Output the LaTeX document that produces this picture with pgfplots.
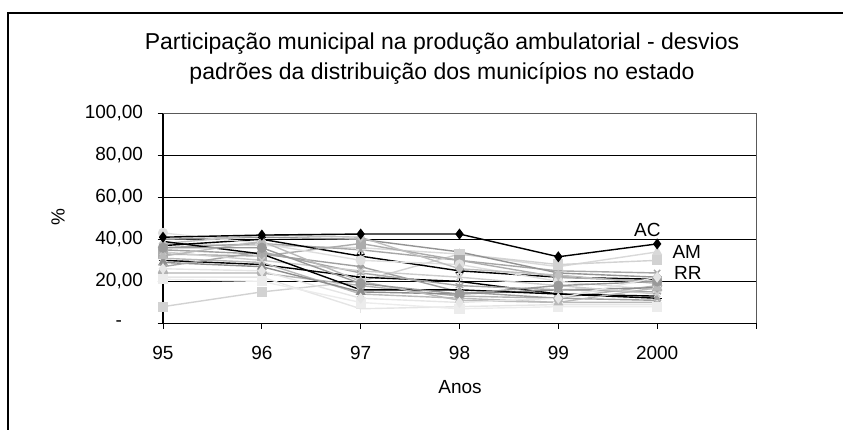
\documentclass[border=0pt]{standalone}
\usepackage{fontspec}
\setmainfont{Liberation Sans}
\usepackage{pgfplots}
\pgfplotsset{compat=1.18}
\begin{document}
\begin{tikzpicture}[x=1pt,y=1pt]
\useasboundingbox (0,0) rectangle (843,430);
\draw[line width=1.1pt] (8,0) -- (8,417) -- (843,417);
\node[anchor=base, font=\fontsize{23}{27}\selectfont] at (442,380) {Participação municipal na produção ambulatorial - desvios};
\node[anchor=base, font=\fontsize{23}{27}\selectfont] at (442,350) {padrões da distribuição dos municípios no estado};
\node[font=\fontsize{19}{22}\selectfont] at (460,43) {Anos};
\node[font=\fontsize{19}{22}\selectfont, rotate=90] at (58,213) {\%};
\begin{axis}[
  at={(163pt,106.5pt)}, anchor=south west, scale only axis,
  width=593pt, height=210.5pt,
  xmin=0, xmax=6, ymin=0, ymax=100,
  axis x line*=bottom, axis y line*=left,
  x axis line style={-, line width=1.5pt},
  y axis line style={-, line width=1.5pt},
  xtick={0,1,2,3,4,5,6}, xticklabels={95,96,97,98,99,2000,{}},
  ytick={0,20,40,60,80,100},
  yticklabels={{-\kern21pt},{20,00},{40,00},{60,00},{80,00},{100,00}},
  tick align=outside, major tick length=5.5pt,
  tick style={black, line width=0.8pt},
  ymajorgrids, grid style={black, line width=0.7pt},
  ticklabel style={font=\fontsize{19}{22}\selectfont},
  yticklabel style={xshift=-11pt},
  xticklabel style={yshift=-14pt},
  clip=false,
  every axis plot/.append style={line width=1.4pt, mark size=4.4pt, mark options={solid}},
]
\draw[gray!70!black, line width=0.8pt] (rel axis cs:0,1) -- (rel axis cs:1,1) -- (rel axis cs:1,0);
% series
\addplot[gray!30, mark=triangle*, mark options={fill=gray!30}] coordinates {(0,38) (1,37) (2,36) (3,33) (4,27) (5,34)};
\addplot[gray!70, mark=x] coordinates {(0,36) (1,38) (2,35) (3,30) (4,25) (5,24)};
\addplot[gray!35, mark=square*, mark options={fill=gray!35}] coordinates {(0,8) (1,15) (2,20) (3,33) (4,28) (5,30)};
\addplot[gray!60, mark=*, mark options={fill=gray!60}] coordinates {(0,24) (1,24) (2,18) (3,13) (4,12) (5,18)};
\addplot[black, mark=asterisk] coordinates {(0,37) (1,40) (2,32) (3,25) (4,22) (5,21)};
\addplot[black, mark=+] coordinates {(0,30) (1,28) (2,22) (3,20) (4,14) (5,12)};
\addplot[gray!75, mark=diamond*, mark options={fill=gray!75}] coordinates {(0,35) (1,33) (2,27) (3,15) (4,12) (5,11)};
\addplot[gray!20, mark=+] coordinates {(0,22) (1,22) (2,7) (3,8) (4,9) (5,9)};
\addplot[gray!55, mark=x] coordinates {(0,31) (1,29) (2,14) (3,12) (4,10) (5,10)};
\addplot[gray!85] coordinates {(0,40) (1,41) (2,40) (3,34) (4,24) (5,22)};
\addplot[gray!65, mark=square*, mark options={fill=gray!65}] coordinates {(0,33) (1,32) (2,38) (3,30) (4,22) (5,20)};
\addplot[gray!25, mark=*, mark options={fill=gray!25}] coordinates {(0,43) (1,38) (2,30) (3,28) (4,20) (5,16)};
\addplot[gray!90, mark=triangle*, mark options={fill=gray!90}] coordinates {(0,29) (1,27) (2,15) (3,14) (4,16) (5,17)};
\addplot[gray!50, mark=diamond*, mark options={fill=gray!50}] coordinates {(0,38) (1,42) (2,41) (3,26) (4,23) (5,19)};
\addplot[gray!15, mark=square*, mark options={fill=gray!15}] coordinates {(0,21) (1,20) (2,10) (3,7) (4,8) (5,8)};
\addplot[gray!70, mark=asterisk] coordinates {(0,27) (1,34) (2,24) (3,18) (4,16) (5,15)};
\addplot[gray!40, mark=x] coordinates {(0,34) (1,30) (2,25) (3,22) (4,18) (5,14)};
\addplot[black] coordinates {(0,39) (1,33) (2,16) (3,16) (4,14) (5,13)};
\addplot[gray!55, mark=triangle*, mark options={fill=gray!55}] coordinates {(0,32) (1,39) (2,20) (3,11) (4,10) (5,17)};
\addplot[gray!80, mark=*, mark options={fill=gray!80}] coordinates {(0,36) (1,36) (2,19) (3,14) (4,18) (5,20)};
\addplot[gray!20, mark=diamond*, mark options={fill=gray!20}] coordinates {(0,26) (1,25) (2,12) (3,10) (4,12) (5,22)};
\addplot[black, mark=diamond*, mark options={fill=black}] coordinates {(0,41) (1,42) (2,42.5) (3,42.5) (4,31.7) (5,37.8)};
\node[font=\fontsize{19}{22}\selectfont] at (axis cs:4.90,44.4) {AC};
\node[font=\fontsize{19}{22}\selectfont] at (axis cs:5.30,34) {AM};
\node[font=\fontsize{19}{22}\selectfont] at (axis cs:5.31,24) {RR};
\end{axis}
\end{tikzpicture}
\end{document}
